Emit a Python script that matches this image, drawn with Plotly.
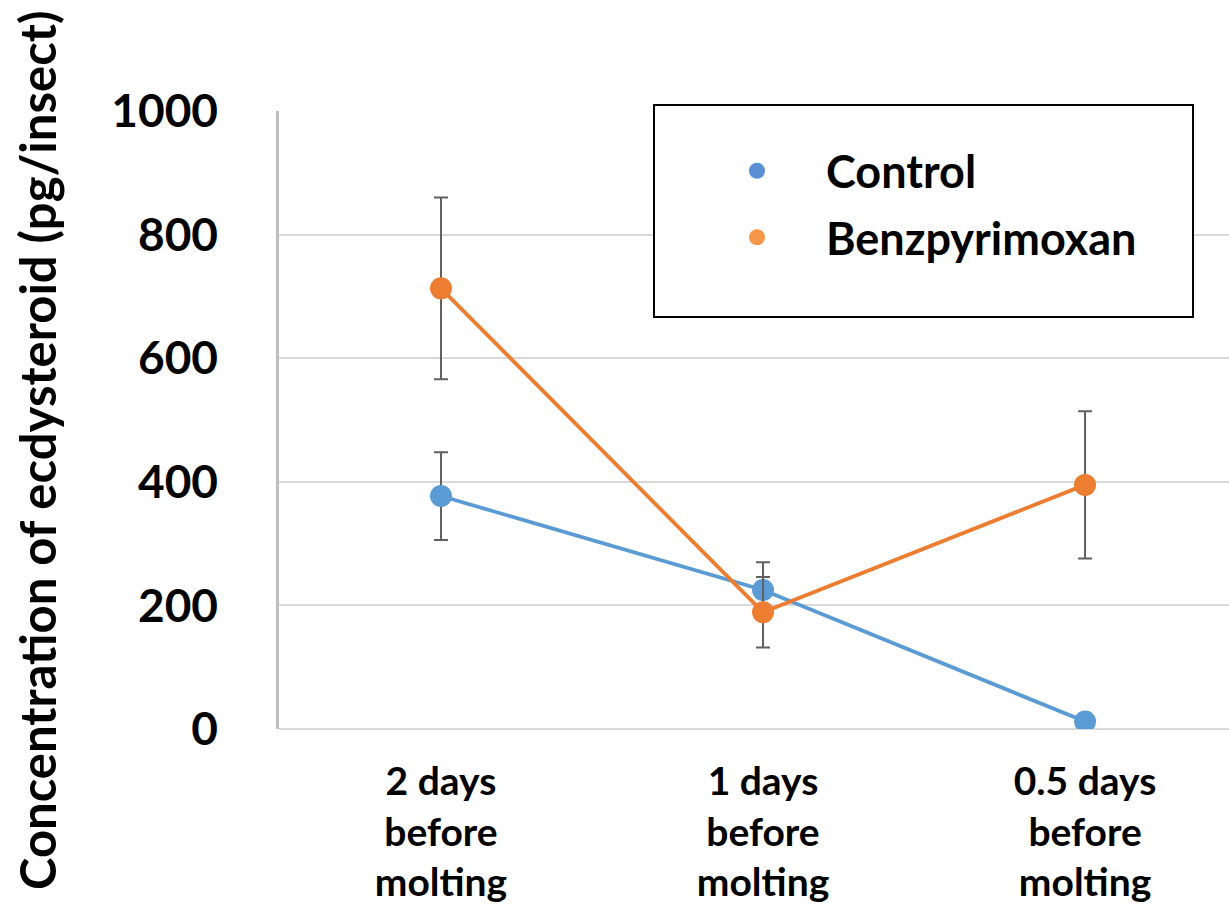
import plotly.graph_objects as go

categories = ["2 days<br>before<br>molting", "1 days<br>before<br>molting", "0.5 days<br>before<br>molting"]
control = [377, 225, 12]
control_err = [71, 45, 8]
benz = [713, 189, 395]
benz_err = [147, 57, 119]
y_ticks = [0, 200, 400, 600, 800, 1000]

FONT = "Lato"
BLUE = "#5B9BD5"
ORANGE = "#ED7D31"
ERR = "#606060"

fig = go.Figure()
fig.add_trace(go.Scatter(
    x=categories, y=control, mode="lines+markers", showlegend=False,
    line=dict(color=BLUE, width=3.8), marker=dict(color=BLUE, size=22),
    error_y=dict(type="data", array=control_err, color=ERR, thickness=2, width=7)))
fig.add_trace(go.Scatter(
    x=categories, y=benz, mode="lines+markers", showlegend=False,
    line=dict(color=ORANGE, width=3.8), marker=dict(color=ORANGE, size=22),
    error_y=dict(type="data", array=benz_err, color=ERR, thickness=2, width=7)))
# legend entries (markers only)
fig.add_trace(go.Scatter(x=[None], y=[None], mode="markers", name="Control",
                         legendgroup="a", marker=dict(color="#5A8FD6", size=20)))
fig.add_trace(go.Scatter(x=[None], y=[None], mode="markers", name="Benzpyrimoxan",
                         legendgroup="b", marker=dict(color="#F79646", size=20)))

W, H = 1229, 906
L, R, T, B = 279, 0, 111, 177
pw, ph = W - L - R, H - T - B

def px(x):
    return (x - L) / pw

def py(y):
    return (H - B - y) / ph

fig.update_layout(
    width=W, height=H,
    margin=dict(l=L, r=R, t=T, b=B, pad=0),
    paper_bgcolor="white", plot_bgcolor="white",
    font=dict(family=FONT, color="black"),
    showlegend=True,
    legend=dict(x=px(688), y=py(135), xanchor="left", yanchor="top",
                bgcolor="rgba(0,0,0,0)", borderwidth=0,
                font=dict(family=FONT, size=45, color="black", weight="bold"),
                itemwidth=128, tracegroupgap=5, traceorder="grouped"),
    xaxis=dict(type="category", categoryorder="array", categoryarray=categories,
               range=[-0.503, 2.447], showgrid=False, showline=False, ticks="",
               zeroline=False,
               tickfont=dict(family=FONT, size=39, color="black", weight="bold"),
               ticklabelstandoff=26),
    yaxis=dict(range=[0, 1000], tickvals=y_ticks, ticktext=[str(v) for v in y_ticks],
               showgrid=True, gridcolor="#D9D9D9", gridwidth=1.5,
               zeroline=True, zerolinecolor="#D9D9D9", zerolinewidth=1.5,
               showline=True, linecolor="#BFBFBF", linewidth=2.5, ticks="",
               tickfont=dict(family=FONT, size=46, color="black", weight="bold"),
               ticklabelstandoff=49),
    shapes=[dict(type="rect", xref="paper", yref="paper",
                 x0=px(654), x1=px(1193), y0=py(317), y1=py(105),
                 line=dict(color="black", width=2), fillcolor="white", layer="above")],
    annotations=[dict(text="Concentration of ecdysteroid (pg/insect)", xref="paper", yref="paper",
                      x=px(37), y=py(451), xanchor="center", yanchor="middle", textangle=-90,
                      showarrow=False,
                      font=dict(family=FONT, size=49, color="black", weight="bold"))],
)

fig.write_html("out.html")
